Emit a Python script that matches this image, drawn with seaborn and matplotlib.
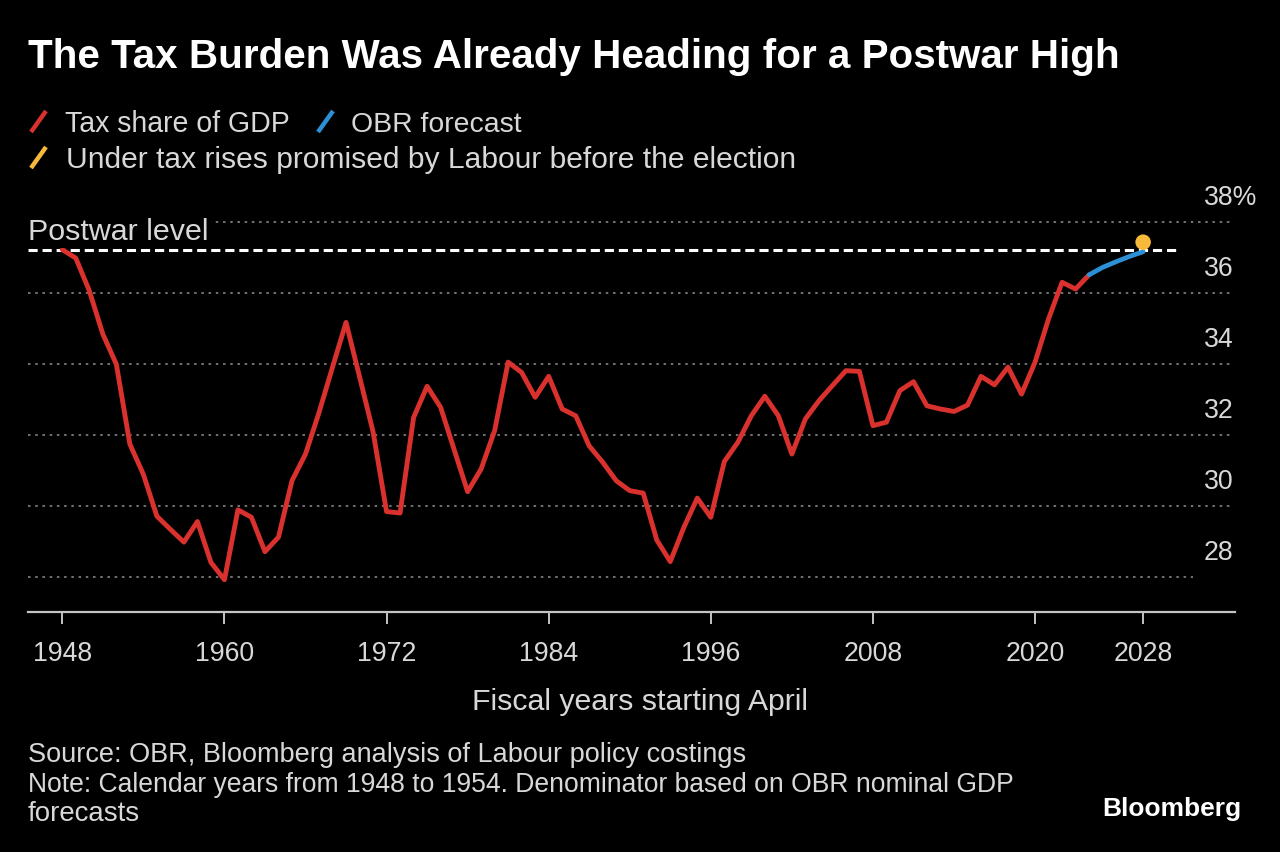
import matplotlib
matplotlib.use("Agg")
import matplotlib.pyplot as plt
import matplotlib.transforms as mtransforms
from matplotlib.lines import Line2D
import numpy as np
import pandas as pd
import seaborn as sns

# ---------------- data ----------------
years_actual = list(range(1948, 2025))
tax_share = [
    37.23, 36.99, 36.07, 34.85, 34.00, 31.75, 30.90, 29.72, 29.35, 28.99,  # 1948-1957
    29.57, 28.42, 27.93, 29.90, 29.69, 28.72, 29.13, 30.72, 31.47, 32.64,  # 1958-1967
    33.92, 35.18, 33.65, 32.10, 29.85, 29.81, 32.50, 33.38, 32.79, 31.60,  # 1968-1977
    30.41, 31.05, 32.13, 34.06, 33.77, 33.07, 33.66, 32.74, 32.55, 31.70,  # 1978-1987
    31.24, 30.72, 30.44, 30.37, 29.05, 28.44, 29.40, 30.23, 29.69, 31.26,  # 1988-1997
    31.80, 32.55, 33.10, 32.55, 31.47, 32.46, 32.97, 33.40, 33.82, 33.80,  # 1998-2007
    32.27, 32.37, 33.26, 33.51, 32.83, 32.74, 32.67, 32.85, 33.66, 33.42,  # 2008-2017
    33.92, 33.16, 34.06, 35.28, 36.31, 36.12, 36.52,                       # 2018-2024
]
years_forecast = [2024, 2025, 2026, 2027, 2028]
obr_forecast = [36.52, 36.73, 36.89, 37.04, 37.17]
labour_years = [2028]
labour_values = [37.44]
postwar_level = 37.23

x_ticks = [1948, 1960, 1972, 1984, 1996, 2008, 2020, 2028]
x_tick_labels = ["1948", "1960", "1972", "1984", "1996", "2008", "2020", "2028"]
y_ticks = [28, 30, 32, 34, 36, 38]
y_tick_labels = ["28", "30", "32", "34", "36", "38%"]

title = "The Tax Burden Was Already Heading for a Postwar High"
legend_labels = ["Tax share of GDP", "OBR forecast",
                 "Under tax rises promised by Labour before the election"]
postwar_label = "Postwar level"
x_label = "Fiscal years starting April"
source_lines = ["Source: OBR, Bloomberg analysis of Labour policy costings",
                "Note: Calendar years from 1948 to 1954. Denominator based on OBR nominal GDP",
                "forecasts"]
brand = "Bloomberg"

df_actual = pd.DataFrame({"year": years_actual, "share": tax_share})
df_forecast = pd.DataFrame({"year": years_forecast, "share": obr_forecast})
df_labour = pd.DataFrame({"year": labour_years, "share": labour_values})

# ---------------- style ----------------
RED = "#d9312d"
BLUE = "#2d8fd5"
YELLOW = "#f6b93b"
TXT = "#d8d8d8"
GRID = "#7a7a7a"
AXC = "#c4c4c4"

sns.set_theme(style="dark", rc={"axes.facecolor": "black", "figure.facecolor": "black"})
plt.rcParams["font.family"] = ["Liberation Sans", "DejaVu Sans"]

W, H, DPI = 1280, 853, 100
fig = plt.figure(figsize=(W / DPI, H / DPI), dpi=DPI, facecolor="black")
ax_bottom_px, ax_top_px = 612.7, 191.35
ax = fig.add_axes([28 / W, 1 - ax_bottom_px / H, (1235 - 28) / W,
                   (ax_bottom_px - ax_top_px) / H])
ax.set_facecolor("black")
ax.grid(False)

XMIN, XMAX = 1945.46, 2034.80
YMIN, YMAX = 27.03, 38.9

# gridlines (dotted)
for v in y_ticks:
    xend = 2031.7 if v == y_ticks[0] else 2034.65
    ax.hlines(v, XMIN, xend, colors=GRID, linestyles=[(0, (1.4, 2.6))],
              linewidth=1.3, zorder=1)

# postwar level dashed line
ax.hlines(postwar_level, XMIN, 2030.5, colors="white",
          linestyles=[(0, (3.0, 1.6))], linewidth=2.2, zorder=2)

sns.lineplot(data=df_actual, x="year", y="share", color=RED, linewidth=3.5,
             ax=ax, zorder=3, legend=False)
sns.lineplot(data=df_forecast, x="year", y="share", color=BLUE, linewidth=3.4,
             ax=ax, zorder=3, legend=False)
sns.scatterplot(data=df_labour, x="year", y="share", color=YELLOW, s=125,
                edgecolor="none", ax=ax, zorder=4, legend=False)

ax.set_xlim(XMIN, XMAX)
ax.set_ylim(YMIN, YMAX)
ax.set_xlabel("")
ax.set_ylabel("")

for side in ["top", "left", "right"]:
    ax.spines[side].set_visible(False)
ax.spines["bottom"].set_visible(True)
ax.spines["bottom"].set_color(AXC)
ax.spines["bottom"].set_linewidth(1.6)

ax.set_xticks(x_ticks)
ax.set_xticklabels(x_tick_labels)
ax.tick_params(axis="x", bottom=True, direction="out", length=8.6, width=1.4,
               color=AXC, labelcolor=TXT, labelsize=19.2, pad=12.0)
ax.set_yticks([])

# y labels on the right, sitting above their gridlines
ylab_trans = mtransforms.offset_copy(
    mtransforms.blended_transform_factory(fig.transFigure, ax.transData),
    fig=fig, x=0, y=18.5, units="dots")
for v, lab in zip(y_ticks, y_tick_labels):
    ax.text(1204 / W, v, lab, transform=ylab_trans, ha="left", va="baseline",
            color=TXT, fontsize=19.2, clip_on=False)

# ---------------- figure texts ----------------
renderer = fig.canvas.get_renderer()


def fig_text(x_px, base_px, s, target_w, color=TXT, weight="normal", ha="left",
             **kw):
    t = fig.text(x_px / W, 1 - base_px / H, s, fontsize=20, color=color,
                 fontweight=weight, ha=ha, va="baseline", **kw)
    w = t.get_window_extent(renderer=renderer).width
    t.set_fontsize(20 * target_w / w)
    return t


fig_text(28, 67.5, title, 1089, color="white", weight="bold")

# legend
def slash(x0, y0, x1, y1, color):
    fig.add_artist(Line2D([x0 / W, x1 / W], [1 - y0 / H, 1 - y1 / H],
                          transform=fig.transFigure, color=color, lw=3.2,
                          solid_capstyle="butt"))

slash(31, 133, 46, 112, RED)
fig_text(65, 131.5, legend_labels[0], 225)
slash(318, 133, 333, 112, BLUE)
fig_text(351, 131.5, legend_labels[1], 170)
slash(31, 169, 46, 148, YELLOW)
fig_text(66, 167.5, legend_labels[2], 728)

pw = fig_text(28, 240.5, postwar_label, 180, zorder=5)
pw.set_bbox(dict(facecolor="black", edgecolor="none", pad=1.5))

fig_text(640, 710.5, x_label, 336, ha="center")

fig_text(28, 762.5, source_lines[0], 716)
fig_text(28, 792.5, source_lines[1], 984)
fig_text(28, 821.5, source_lines[2], 112)

fig_text(1102, 816.5, brand, 139, color="white", weight="bold")

fig.savefig("out.png", dpi=DPI, facecolor="black")
